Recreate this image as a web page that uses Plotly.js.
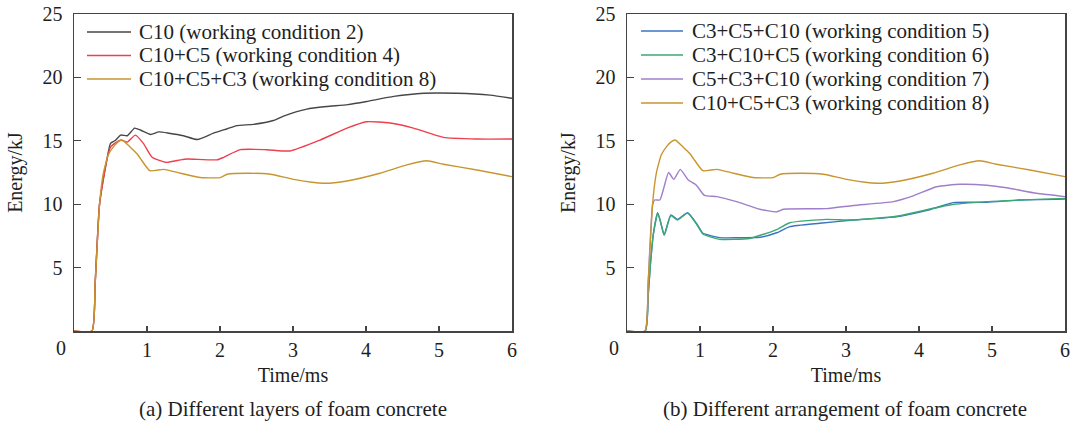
<!DOCTYPE html>
<html>
<head>
<meta charset="utf-8">
<script src="https://cdn.plot.ly/plotly-3.0.1.min.js"></script>
<style>html,body{margin:0;padding:0;background:#fff;}#chart{width:1073px;height:423px;}</style>
</head>
<body>
<div id="chart"></div>
<script>
// ---- data ----
const tWC2 = [0, 0.245, 0.29, 0.35, 0.45, 0.5, 0.56, 0.64, 0.73, 0.83, 0.91, 1.05, 1.16, 1.3, 1.5, 1.69, 1.91, 2.1, 2.23, 2.46, 2.73, 2.87, 3.19, 3.46, 3.75, 4.01, 4.38, 4.79, 5.24, 5.7, 6.0];
const eWC2 = [0, 0, 3.8, 10, 13.5, 14.8, 15.0, 15.45, 15.4, 16.0, 15.85, 15.5, 15.7, 15.6, 15.4, 15.1, 15.6, 15.95, 16.2, 16.3, 16.6, 16.95, 17.5, 17.7, 17.85, 18.1, 18.5, 18.75, 18.75, 18.6, 18.35];

const tWC4 = [0, 0.245, 0.29, 0.35, 0.45, 0.5, 0.6, 0.64, 0.73, 0.84, 0.95, 1.07, 1.27, 1.46, 1.55, 1.96, 2.05, 2.28, 2.64, 2.96, 3.37, 3.74, 4.01, 4.33, 4.65, 5.06, 5.52, 6.0];
const eWC4 = [0, 0, 3.8, 10, 13.5, 14.5, 14.95, 15.06, 14.9, 15.45, 14.8, 13.7, 13.3, 13.5, 13.56, 13.5, 13.7, 14.3, 14.3, 14.2, 15.06, 16.0, 16.5, 16.4, 16.0, 15.27, 15.14, 15.14];

const tWC8 = [0, 0.245, 0.29, 0.35, 0.4, 0.47, 0.55, 0.6, 0.66, 0.77, 0.86, 0.91, 1.04, 1.23, 1.46, 1.73, 2.0, 2.1, 2.37, 2.69, 3.01, 3.42, 3.74, 4.19, 4.56, 4.83, 5.06, 5.52, 6.0];
const eWC8 = [0, 0, 3.8, 10, 12.4, 13.9, 14.6, 14.9, 15.06, 14.5, 14.0, 13.6, 12.64, 12.75, 12.44, 12.1, 12.1, 12.36, 12.44, 12.36, 11.96, 11.65, 11.83, 12.44, 13.1, 13.43, 13.15, 12.7, 12.17];

const tWC5 = [0, 0.25, 0.29, 0.32, 0.36, 0.42, 0.46, 0.51, 0.6, 0.69, 0.83, 0.95, 1.04, 1.1, 1.27, 1.5, 1.82, 2.05, 2.23, 2.64, 3.1, 3.69, 4.1, 4.47, 4.93, 5.38, 6.0];
const eWC5 = [0, 0, 2.8, 5.2, 7.6, 9.33, 8.6, 7.6, 9.15, 8.8, 9.33, 8.5, 7.7, 7.6, 7.36, 7.35, 7.39, 7.75, 8.23, 8.5, 8.75, 9.0, 9.49, 10.12, 10.15, 10.33, 10.4];

const tWC6 = [0, 0.25, 0.29, 0.32, 0.36, 0.42, 0.46, 0.51, 0.6, 0.69, 0.83, 0.95, 1.04, 1.1, 1.27, 1.68, 2.05, 2.23, 2.73, 3.1, 3.69, 4.42, 4.93, 5.61, 6.0];
const eWC6 = [0, 0, 2.8, 5.2, 7.6, 9.3, 8.6, 7.55, 9.1, 8.75, 9.3, 8.45, 7.65, 7.5, 7.23, 7.3, 8.0, 8.54, 8.8, 8.75, 9.05, 9.94, 10.2, 10.38, 10.46];

const tWC7 = [0, 0.245, 0.29, 0.35, 0.38, 0.45, 0.57, 0.64, 0.73, 0.84, 0.95, 1.06, 1.23, 1.5, 1.82, 2.05, 2.14, 2.73, 3.1, 3.65, 3.92, 4.24, 4.56, 4.93, 5.2, 5.61, 6.0];
const eWC7 = [0, 0, 3.8, 9.9, 10.33, 10.33, 12.5, 11.96, 12.75, 11.9, 11.5, 10.7, 10.6, 10.2, 9.6, 9.4, 9.6, 9.65, 9.9, 10.2, 10.65, 11.38, 11.57, 11.5, 11.3, 10.86, 10.6];

const namesLeft  = ["C10 (working condition 2)", "C10+C5 (working condition 4)", "C10+C5+C3 (working condition 8)"];
const namesRight = ["C3+C5+C10 (working condition 5)", "C3+C10+C5 (working condition 6)", "C5+C3+C10 (working condition 7)", "C10+C5+C3 (working condition 8)"];
const xTicks = [1, 2, 3, 4, 5, 6];
const yTicks = [5, 10, 15, 20, 25];
const xTitle = "Time/ms";
const yTitle = "Energy/kJ";
const captionA = "(a) Different layers of foam concrete";
const captionB = "(b) Different arrangement of foam concrete";

// ---- styling ----
const COL = {gray:"#474747", red:"#ee3f4e", gold:"#c8952f", blue:"#3b74c4", green:"#3aa972", purple:"#a07fca"};
const FONT = "Liberation Serif";
const TXT = "#1e1e1e";
const AX = "#444";

function tr(x, y, name, color, xa, ya) {
  return {x: x, y: y, name: name, type: "scatter", mode: "lines", xaxis: xa, yaxis: ya,
          line: {color: color, width: 1.4, shape: "spline", smoothing: 0.5}, showlegend: false,
          hovertemplate: "%{x} ms, %{y} kJ<extra>" + name + "</extra>"};
}
const data = [
  tr(tWC2, eWC2, namesLeft[0], COL.gray, "x", "y"),
  tr(tWC4, eWC4, namesLeft[1], COL.red, "x", "y"),
  tr(tWC8, eWC8, namesLeft[2], COL.gold, "x", "y"),
  tr(tWC5, eWC5, namesRight[0], COL.blue, "x2", "y2"),
  tr(tWC6, eWC6, namesRight[1], COL.green, "x2", "y2"),
  tr(tWC7, eWC7, namesRight[2], COL.purple, "x2", "y2"),
  tr(tWC8, eWC8, namesRight[3], COL.gold, "x2", "y2")
];

// geometry (pixels)
const W = 1073, H = 423, ML = 74, MR = 8, MT = 14, MB = 92;
const PW = W - ML - MR, PH = H - MT - MB;
const px = v => (v - ML) / PW;
const py = v => (H - MB - v) / PH;

function xax(domain, anchor) {
  return {domain: domain, anchor: anchor, range: [0, 6], tickvals: xTicks, ticks: "inside", ticklen: 5,
    tickwidth: 1.2, tickcolor: AX, showline: true, linecolor: AX, linewidth: 1.5, mirror: true,
    showgrid: false, zeroline: false, tickfont: {family: FONT, size: 20, color: TXT},
    title: {text: xTitle, font: {family: FONT, size: 20, color: TXT}, standoff: 8}, automargin: false, layer: "below traces"};
}
function yax(anchor) {
  return {domain: [0, 1], anchor: anchor, range: [0, 25], tickvals: yTicks, ticks: "inside", ticklen: 7,
    tickwidth: 1.2, tickcolor: AX, showline: true, linecolor: AX, linewidth: 1.5, mirror: true,
    showgrid: false, zeroline: false, tickfont: {family: FONT, size: 20, color: TXT}, ticklabelstandoff: 6,
    title: {text: yTitle, font: {family: FONT, size: 20, color: TXT}, standoff: 14}, automargin: false, layer: "below traces"};
}

const shapes = [], annotations = [];
function legend(x0, x1, xt, rows, names, colors) {
  names.forEach((n, i) => {
    shapes.push({type: "line", xref: "paper", yref: "paper", x0: px(x0), x1: px(x1), y0: py(rows[i]), y1: py(rows[i]),
                 line: {color: colors[i], width: 1.6}});
    annotations.push({text: n, xref: "paper", yref: "paper", x: px(xt), y: py(rows[i]), xanchor: "left", yanchor: "middle",
                      showarrow: false, font: {family: FONT, size: 21, color: TXT}});
  });
}
legend(87, 131, 137, [32, 55.5, 79], namesLeft, [COL.gray, COL.red, COL.gold]);
legend(641, 683, 690, [31, 55, 79, 103], namesRight, [COL.blue, COL.green, COL.purple, COL.gold]);

function ann(text, x, y, size) {
  annotations.push({text: text, xref: "paper", yref: "paper", x: px(x), y: py(y), xanchor: "center", yanchor: "middle",
                    showarrow: false, font: {family: FONT, size: size, color: TXT}});
}
ann("0", 61, 348, 20);
ann("0", 614, 348, 20);
ann(captionA, 292.5, 409, 21);
ann(captionB, 845, 409, 21);

const layout = {
  width: W, height: H, margin: {l: ML, r: MR, t: MT, b: MB, pad: 0},
  paper_bgcolor: "#fff", plot_bgcolor: "#fff", showlegend: false,
  xaxis: xax([0, px(512)], "y"), yaxis: yax("x"),
  xaxis2: xax([px(627), 1], "y2"), yaxis2: yax("x2"),
  shapes: shapes, annotations: annotations
};
Plotly.newPlot("chart", data, layout, {displayModeBar: false, staticPlot: true});
</script>
</body>
</html>
